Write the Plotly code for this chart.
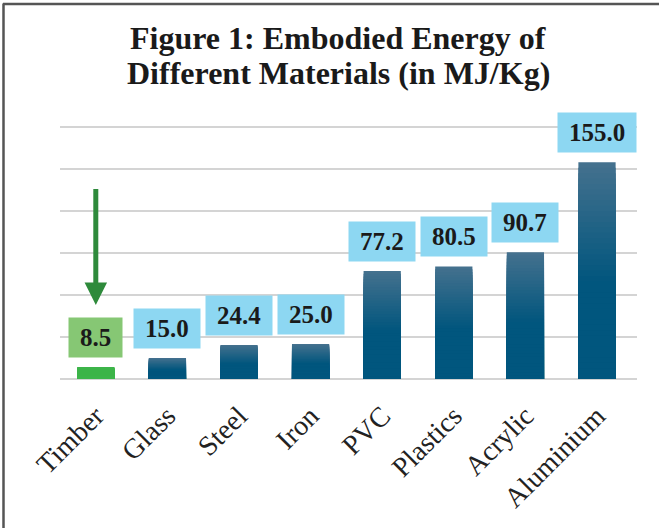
import plotly.graph_objects as go

categories = ["Timber", "Glass", "Steel", "Iron", "PVC", "Plastics", "Acrylic", "Aluminium"]
values = [8.5, 15.0, 24.4, 25.0, 77.2, 80.5, 90.7, 155.0]
highlight = "Timber"

title_lines = ["Figure 1: Embodied Energy of", "Different Materials (in MJ/Kg)"]

W, H = 659, 528
ML, MR, MT, MB = 60, 22, 125.6, 149


def px_x(p):
    return (p - ML) / (W - ML - MR)


def px_y(p):
    return (H - MB - p) / (H - MT - MB)


fig = go.Figure()

# gradient-like bars built from stacked overlay layers (lighter top -> dark bottom)
top_rgb = (68, 113, 142)
bot_rgb = (1, 86, 126)
n_layers = 40
for k in range(n_layers):
    frac = 1 - k / n_layers
    t = k / (n_layers - 1)
    t = min(1.0, t * 1.8)
    r = int(top_rgb[0] + (bot_rgb[0] - top_rgb[0]) * t)
    g = int(top_rgb[1] + (bot_rgb[1] - top_rgb[1]) * t)
    b = int(top_rgb[2] + (bot_rgb[2] - top_rgb[2]) * t)
    col = f"rgb({r},{g},{b})"
    cols = ["#3DB54A" if c == highlight else col for c in categories]
    fig.add_trace(go.Bar(
        x=categories, y=[v * frac for v in values],
        marker=dict(color=cols, line=dict(width=0)),
        hoverinfo="skip", showlegend=False,
    ))

for c, v in zip(categories, values):
    fig.add_annotation(
        x=c, y=v, xref="x", yref="y",
        text=f"\u2009{v:.1f}\u2009",
        showarrow=False, yanchor="bottom", yshift=9,
        bgcolor="#86C774" if c == highlight else "#8DD7F2",
        borderpad=6,
        font=dict(family="Liberation Serif", size=25, color="#1a1a1a", weight="bold"),
    )

# green arrow pointing at Timber
fig.add_annotation(
    x=highlight, y=53, ax=highlight, ay=137,
    xref="x", yref="y", axref="x", ayref="y",
    text="", showarrow=True, arrowhead=2, arrowsize=0.9, arrowwidth=5,
    arrowcolor="#2E8A3B",
)

# title (two lines, tight spacing)
for line, yc in zip(title_lines, [37.5, 72.5]):
    fig.add_annotation(
        x=px_x(338), y=px_y(yc), xref="paper", yref="paper",
        xanchor="center", yanchor="middle", showarrow=False,
        text=line, align="center",
        font=dict(family="Liberation Serif", size=32, color="#1a1a1a", weight="bold"),
    )

# figure frame (left and top edges)
fig.add_shape(type="line", xref="paper", yref="paper",
              x0=px_x(3.5), x1=px_x(3.5), y0=px_y(3), y1=px_y(540),
              line=dict(color="#555555", width=2.5))
fig.add_shape(type="line", xref="paper", yref="paper",
              x0=px_x(3), x1=px_x(680), y0=px_y(3.5), y1=px_y(3.5),
              line=dict(color="#555555", width=2.5))

fig.update_layout(
    width=W, height=H,
    margin=dict(l=ML, r=MR, t=MT, b=MB, autoexpand=False),
    paper_bgcolor="white", plot_bgcolor="white",
    barmode="overlay", bargap=0.48,
    xaxis=dict(tickangle=-45, showgrid=False, ticks="", showline=False,
               automargin=False,
               tickfont=dict(family="Liberation Serif", size=28, color="#222222"),
               ticklabelstandoff=14),
    yaxis=dict(range=[0, 181], dtick=30, showticklabels=False, showgrid=True,
               automargin=False,
               gridcolor="#D4D4D4", gridwidth=2, zeroline=True,
               zerolinecolor="#D4D4D4", zerolinewidth=2, showline=False),
    showlegend=False,
)

fig.write_html("out.html", config={"displayModeBar": False},
               post_script="document.body.style.margin='0';")
